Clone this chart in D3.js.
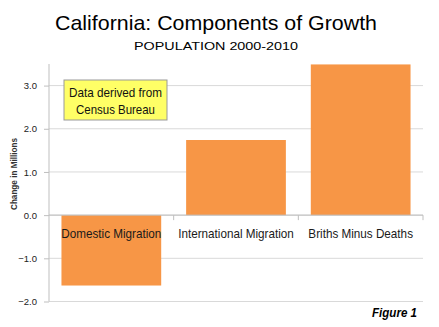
<!DOCTYPE html>
<html><head><meta charset="utf-8">
<script src="https://cdn.jsdelivr.net/npm/d3@7"></script>
<style>body{margin:0;background:#fff}svg{display:block}</style>
</head><body>
<svg id="c" width="439" height="327"></svg>
<script>
const categories = ["Domestic Migration", "International Migration", "Briths Minus Deaths"];
const values = [-1.63, 1.74, 3.49];
const yTicks = [-2, -1, 0, 1, 2, 3];
const title = "California: Components of Growth";
const subtitle = "POPULATION 2000-2010";
const yTitle = "Change in Millions";
const note = ["Data derived from", "Census Bureau"];
const figLabel = "Figure 1";

const svg = d3.select("#c");
const font = "'Liberation Sans', Arial, sans-serif";
const L = 49, R = 423, T = 64, B = 301.5;
const x = d3.scaleBand().domain(categories).range([L, R]).paddingInner(0.2).paddingOuter(0.1);
const y = d3.scaleLinear().domain([-2, 3.5]).range([B, T]);

// gridlines
svg.append("g").selectAll("line").data(yTicks).join("line")
  .attr("x1", L).attr("x2", R).attr("y1", d => y(d)).attr("y2", d => y(d))
  .attr("stroke", "#d9d9d9").attr("stroke-width", 1);

// bars
svg.append("g").selectAll("rect").data(values).join("rect")
  .attr("x", (d, i) => x(categories[i]))
  .attr("width", x.bandwidth())
  .attr("y", d => y(Math.max(0, d)))
  .attr("height", d => Math.abs(y(d) - y(0)))
  .attr("fill", "#f79646");

// y axis
const yAxis = d3.axisLeft(y).tickValues(yTicks).tickFormat(d3.format(".1f")).tickSize(5).tickPadding(7);
const ya = svg.append("g").attr("transform", `translate(${L},0)`).call(yAxis);
ya.select(".domain").attr("stroke", "#bfbfbf").attr("d", `M0,${T}V${B}`);
ya.selectAll(".tick line").attr("stroke", "#bfbfbf");
ya.selectAll("text").attr("font-family", font).attr("font-size", 9.5).attr("fill", "#222");

// x axis at zero
const xa = svg.append("g").attr("transform", `translate(0,${y(0)})`);
xa.append("line").attr("x1", L).attr("x2", R).attr("stroke", "#bfbfbf");
const bounds = [L + x.step() * 1, L + x.step() * 2, R];
xa.selectAll("line.tk").data(bounds).join("line").attr("class", "tk")
  .attr("x1", d => d).attr("x2", d => d).attr("y1", 0).attr("y2", 5).attr("stroke", "#bfbfbf");
const cl = xa.selectAll("text").data(categories).join("text")
  .attr("x", d => x(d) + x.bandwidth() / 2).attr("y", 22.5)
  .attr("text-anchor", "middle").attr("font-family", font).attr("font-size", 13.5)
  .attr("fill", "#1a1a1a").text(d => d);
// condense glyphs uniformly to match the narrow reference face
const refLen = cl.nodes()[1].getComputedTextLength();
const k = 115.7 / refLen;
cl.each(function () {
  const w = this.getComputedTextLength();
  d3.select(this).attr("textLength", w * k).attr("lengthAdjust", "spacingAndGlyphs");
});

// titles
svg.append("text").attr("x", 216).attr("y", 30).attr("text-anchor", "middle")
  .attr("font-family", font).attr("font-size", 21).attr("textLength", 322).attr("lengthAdjust", "spacingAndGlyphs").text(title);
svg.append("text").attr("x", 216).attr("y", 50).attr("text-anchor", "middle")
  .attr("font-family", font).attr("font-size", 11.5).attr("textLength", 164).attr("lengthAdjust", "spacingAndGlyphs").text(subtitle);

// y title
svg.append("text").attr("transform", "translate(17,174) rotate(-90)").attr("text-anchor", "middle")
  .attr("font-family", font).attr("font-size", 9).attr("font-weight", "bold")
  .attr("textLength", 72).attr("lengthAdjust", "spacingAndGlyphs").attr("fill", "#333").text(yTitle);

// note box
svg.append("rect").attr("x", 64).attr("y", 80).attr("width", 103).attr("height", 40)
  .attr("fill", "#ffff66").attr("stroke", "#999").attr("stroke-width", 1);
svg.append("g").selectAll("text").data(note).join("text")
  .attr("x", 115.5).attr("y", (d, i) => 97 + i * 16.5).attr("text-anchor", "middle")
  .attr("font-family", font).attr("font-size", 13.5).attr("fill", "#111")
  .attr("textLength", (d, i) => i === 0 ? 93 : 79).attr("lengthAdjust", "spacingAndGlyphs").text(d => d);

// figure label
svg.append("text").attr("x", 417).attr("y", 317).attr("text-anchor", "end")
  .attr("font-family", font).attr("font-size", 13).attr("font-weight", "bold").attr("font-style", "italic")
  .attr("textLength", 45).attr("lengthAdjust", "spacingAndGlyphs").text(figLabel);
</script>
</body></html>
